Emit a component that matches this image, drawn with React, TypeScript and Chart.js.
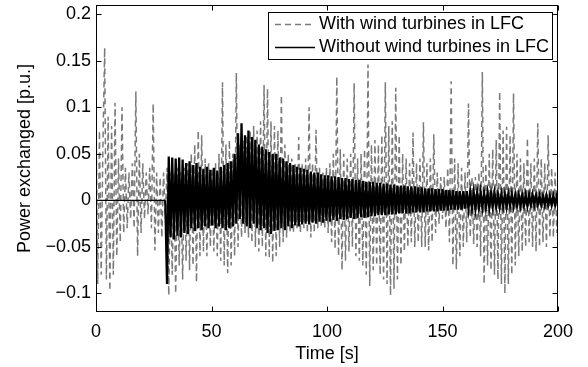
import React, { useEffect, useRef } from "react";
import { Chart, registerables } from "chart.js";

Chart.register(...registerables);

// ---- data ----
const sampleStep = 0.75; // seconds between samples
const xTicks = [0, 50, 100, 150, 200];
const xTickLabels = ["0", "50", "100", "150", "200"];
const yTicks = [-0.1, -0.05, 0, 0.05, 0.1, 0.15, 0.2];
const yTickLabels = ["\u22120.1", "\u22120.05", "0", "0.05", "0.1", "0.15", "0.2"];
const seriesNames = ["With wind turbines in LFC", "Without wind turbines in LFC"];

// With wind turbines in LFC (samples from t = 0, every 0.75 s)
const withWindValues = [
  0.098, -0.09, 0.075, -0.08, 0.06, 0.164, -0.085, 0.09, -0.097, 0.08, -0.08, 0.105, -0.06, 0.045, -0.045, 0.1, -0.035, 0.035, -0.03, 0.03,
  -0.02, 0.04, -0.03, 0.117, -0.06, 0.05, -0.035, 0.04, -0.02, 0.03, -0.015, 0.035, -0.03, 0.104, -0.054, 0.03, -0.035, 0.025, -0.04, 0.03,
  -0.02, 0.035, -0.102, 0.03, -0.08, 0.03, -0.1, 0.035, -0.07, 0.03, -0.085, 0.035, -0.065, 0.04, -0.075, 0.05, -0.07, 0.06, -0.088, 0.075,
  -0.06, 0.07, -0.055, 0.045, -0.06, 0.04, -0.05, 0.035, -0.055, 0.04, -0.06, 0.05, -0.065, 0.127, -0.07, 0.06, -0.078, 0.065, -0.07, 0.05,
  -0.06, 0.137, -0.05, 0.06, -0.04, 0.065, -0.035, 0.07, -0.04, 0.075, -0.045, 0.08, -0.05, 0.075, -0.055, 0.085, -0.05, 0.124, -0.06, 0.12,
  -0.062, 0.085, -0.067, 0.08, -0.06, 0.075, -0.05, 0.113, -0.045, 0.06, -0.04, 0.05, -0.035, 0.045, -0.035, 0.04, -0.03, 0.068, -0.035, 0.04,
  -0.03, 0.045, -0.035, 0.1, -0.04, 0.04, -0.035, 0.076, -0.03, 0.035, -0.028, 0.03, -0.03, 0.035, -0.035, 0.04, -0.045, 0.05, -0.052, 0.133,
  -0.06, 0.055, -0.075, 0.05, -0.065, 0.045, -0.055, 0.05, -0.05, 0.126, -0.06, 0.045, -0.065, 0.05, -0.07, 0.055, -0.08, 0.146, -0.092, 0.06,
  -0.075, 0.065, -0.07, 0.06, -0.08, 0.07, -0.085, 0.127, -0.09, 0.08, -0.102, 0.085, -0.095, 0.121, -0.085, 0.07, -0.07, 0.05, -0.055, 0.045,
  -0.05, 0.04, -0.045, 0.073, -0.05, 0.04, -0.045, 0.045, -0.05, 0.084, -0.05, 0.04, -0.054, 0.045, -0.045, 0.071, -0.035, 0.03, -0.025, 0.025,
  -0.02, 0.025, -0.03, 0.035, -0.045, 0.128, -0.07, 0.045, -0.074, 0.04, -0.06, 0.035, -0.05, 0.03, -0.045, 0.104, -0.04, 0.025, -0.047, 0.025,
  -0.05, 0.03, -0.06, 0.138, -0.09, 0.04, -0.07, 0.05, -0.075, 0.055, -0.08, 0.065, -0.085, 0.117, -0.09, 0.075, -0.1, 0.079, -0.09, 0.07,
  -0.08, 0.115, -0.07, 0.05, -0.06, 0.045, -0.055, 0.04, -0.05, 0.067, -0.045, 0.04, -0.05, 0.045, -0.055, 0.083, -0.05, 0.045, -0.045, 0.04,
  -0.05, 0.07, -0.04, 0.035, -0.04, 0.03, -0.035, 0.03,
];

// Without wind turbines in LFC: flat part, then samples from t = 30.75 every 0.75 s
const withoutFlatTimes = [0, 30];
const withoutFlatValues = [0, 0];
const withoutStartTime = 30;
const withoutWindValues = [
  -0.09, 0.047, -0.04, 0.046, -0.042, 0.045, -0.038, 0.046, -0.04, 0.044, -0.035, 0.04, -0.036, 0.042, -0.03, 0.038, -0.033, 0.04, -0.03, 0.036,
  -0.032, 0.034, -0.028, 0.036, -0.03, 0.033, -0.027, 0.035, -0.03, 0.032, -0.028, 0.036, -0.03, 0.038, -0.032, 0.04, -0.03, 0.042, -0.028, 0.05,
  -0.025, 0.072, -0.02, 0.083, -0.025, 0.07, -0.028, 0.075, -0.03, 0.068, -0.025, 0.065, -0.03, 0.06, -0.032, 0.058, -0.03, 0.055, -0.035, 0.052,
  -0.036, 0.05, -0.033, 0.05, -0.032, 0.046, -0.03, 0.045, -0.032, 0.042, -0.028, 0.04, -0.03, 0.038, -0.027, 0.036, -0.028, 0.035, -0.026, 0.034,
  -0.025, 0.033, -0.026, 0.031, -0.024, 0.03, -0.025, 0.03, -0.023, 0.028, -0.024, 0.027, -0.022, 0.027, -0.023, 0.026, -0.021, 0.026, -0.022, 0.025,
  -0.02, 0.024, -0.021, 0.024, -0.02, 0.023, -0.019, 0.023, -0.02, 0.022, -0.019, 0.022, -0.018, 0.021, -0.019, 0.02, -0.018, 0.02, -0.017, 0.02,
  -0.017, 0.019, -0.016, 0.019, -0.016, 0.018, -0.016, 0.018, -0.015, 0.017, -0.015, 0.017, -0.015, 0.016, -0.014, 0.016, -0.014, 0.016, -0.014, 0.015,
  -0.014, 0.015, -0.013, 0.015, -0.013, 0.014, -0.013, 0.014, -0.013, 0.013, -0.012, 0.013, -0.012, 0.013, -0.012, 0.012, -0.012, 0.012, -0.011, 0.012,
  -0.011, 0.011, -0.011, 0.011, -0.01, 0.011, -0.01, 0.01, -0.01, 0.01, -0.01, 0.01, -0.009, 0.01, -0.009, 0.009, -0.009, 0.009, -0.009, 0.009,
  -0.008, 0.009, -0.008, 0.008, -0.008, 0.008, -0.008, 0.008, -0.007, 0.008, -0.007, 0.007, -0.007, 0.007, -0.007, 0.007, -0.007, 0.007, -0.006, 0.007,
  -0.006, 0.006, -0.006, 0.006, -0.006, 0.006, -0.006, 0.006, -0.006, 0.006, -0.005, 0.006, -0.005, 0.006, -0.005, 0.005, -0.005, 0.005, -0.005, 0.005,
  -0.005, 0.005, -0.005, 0.005, -0.005, 0.005, -0.005,
];

const FONT = "'Liberation Sans', Arial, Helvetica, sans-serif";
const GRAY = "#7a7a7a";

const frameAndLegend = {
  id: "frameAndLegend",
  afterDatasetsDraw(chart: any) {
    const { ctx, chartArea: a, scales } = chart;
    const L = Math.round(a.left) + 0.5;
    const R = Math.round(a.right) - 0.5;
    const T = Math.round(a.top) + 0.5;
    const B = Math.round(a.bottom) - 0.5;
    ctx.save();
    ctx.strokeStyle = "#000";
    ctx.lineWidth = 1;
    ctx.setLineDash([]);
    ctx.strokeRect(L, T, R - L, B - T);
    const tl = 5;
    ctx.beginPath();
    xTicks.forEach((v) => {
      const px = Math.round(scales.x.getPixelForValue(v)) + 0.5;
      ctx.moveTo(px, B);
      ctx.lineTo(px, B - tl);
      ctx.moveTo(px, T);
      ctx.lineTo(px, T + tl);
    });
    yTicks.forEach((v) => {
      const py = Math.round(scales.y.getPixelForValue(v)) + 0.5;
      ctx.moveTo(L, py);
      ctx.lineTo(L + tl, py);
      ctx.moveTo(R, py);
      ctx.lineTo(R - tl, py);
    });
    ctx.stroke();

    // legend box
    const lx = 268.5, ly = 12.5, lw = 284, lh = 47;
    ctx.fillStyle = "#fff";
    ctx.fillRect(lx, ly, lw, lh);
    ctx.strokeStyle = "#000";
    ctx.strokeRect(lx, ly, lw, lh);
    const rows = [24.5, 47.5];
    ctx.beginPath();
    ctx.strokeStyle = GRAY;
    ctx.lineWidth = 1.3;
    ctx.setLineDash([6, 4]);
    ctx.moveTo(275, rows[0]);
    ctx.lineTo(315, rows[0]);
    ctx.stroke();
    ctx.beginPath();
    ctx.strokeStyle = "#000";
    ctx.setLineDash([]);
    ctx.moveTo(275, rows[1]);
    ctx.lineTo(315, rows[1]);
    ctx.stroke();
    ctx.fillStyle = "#000";
    ctx.font = `18px ${FONT}`;
    ctx.textBaseline = "middle";
    ctx.textAlign = "left";
    ctx.fillText(seriesNames[0], 319, rows[0]);
    ctx.fillText(seriesNames[1], 319, rows[1]);
    ctx.restore();
  },
};

export default function App() {
  const ref = useRef<HTMLCanvasElement | null>(null);
  useEffect(() => {
    if (!ref.current) return;
    const grayData = withWindValues.map((v, i) => ({ x: i * sampleStep, y: v }));
    const blackData = [
      ...withoutFlatTimes.map((t, i) => ({ x: t, y: withoutFlatValues[i] })),
      ...withoutWindValues.map((v, j) => ({ x: withoutStartTime + (j + 1) * sampleStep, y: v })),
    ];
    const chart = new Chart(ref.current, {
      type: "line",
      data: {
        datasets: [
          {
            label: seriesNames[0],
            data: grayData,
            borderColor: GRAY,
            borderWidth: 1.5,
            borderDash: [6, 4],
            pointRadius: 0,
            tension: 0,
            order: 2,
          },
          {
            label: seriesNames[1],
            data: blackData,
            borderColor: "#000",
            borderWidth: 2.3,
            segment: {
              borderWidth: (c: any) => (c.p1.parsed.x <= withoutStartTime ? 1.3 : 2.3),
            },
            pointRadius: 0,
            tension: 0,
            order: 1,
          },
        ],
      },
      options: {
        animation: false,
        responsive: false,
        devicePixelRatio: 1,
        layout: { padding: { top: 5, right: 30, left: 0, bottom: 0 } },
        plugins: { legend: { display: false }, tooltip: { enabled: false } },
        scales: {
          x: {
            type: "linear",
            min: 0,
            max: 200,
            grid: { display: false, drawTicks: false },
            border: { display: false },
            afterBuildTicks: (s: any) => {
              s.ticks = xTicks.map((v) => ({ value: v }));
            },
            afterFit: (s: any) => {
              s.height = 55;
              s.paddingLeft = 0;
              s.paddingRight = 0;
            },
            ticks: {
              padding: 9,
              maxRotation: 0,
              autoSkip: false,
              color: "#000",
              font: { family: FONT, size: 18 },
              callback: (v: any) => xTickLabels[xTicks.indexOf(Number(v))] ?? "",
            },
            title: {
              display: true,
              text: "Time [s]",
              color: "#000",
              font: { family: FONT, size: 18 },
              padding: { top: 0, bottom: 2 },
            },
          },
          y: {
            type: "linear",
            min: -0.12,
            max: 0.21,
            grid: { display: false, drawTicks: false },
            border: { display: false },
            afterBuildTicks: (s: any) => {
              s.ticks = yTicks.map((v) => ({ value: v }));
            },
            afterFit: (s: any) => {
              s.width = 96;
              s.paddingTop = 0;
              s.paddingBottom = 0;
            },
            ticks: {
              padding: 5,
              autoSkip: false,
              color: "#000",
              font: { family: FONT, size: 18 },
              callback: (v: any) => {
                const idx = yTicks.findIndex((t) => Math.abs(t - Number(v)) < 1e-9);
                return idx >= 0 ? yTickLabels[idx] : "";
              },
            },
            title: {
              display: true,
              text: "Power exchanged [p.u.]",
              color: "#000",
              font: { family: FONT, size: 18 },
              padding: { top: 14, bottom: 0 },
            },
          },
        },
      },
      plugins: [frameAndLegend],
    });
    return () => chart.destroy();
  }, []);
  return (
    <div style={{ position: "fixed", left: 0, top: 0, width: 588, height: 367, background: "#fff" }}>
      <canvas ref={ref} width={588} height={367} style={{ width: 588, height: 367, display: "block" }} />
    </div>
  );
}
